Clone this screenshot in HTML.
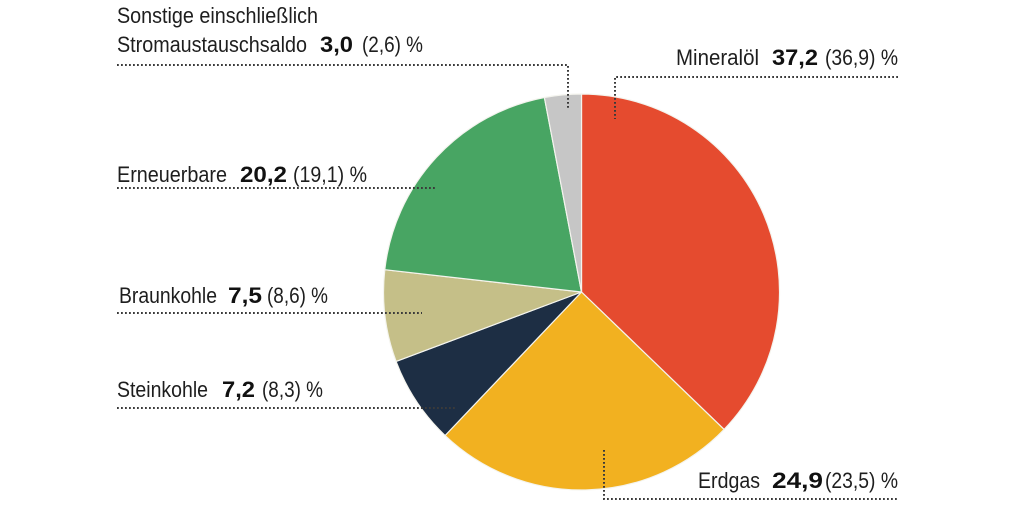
<!DOCTYPE html>
<html>
<head>
<meta charset="utf-8">
<style>
  html, body { margin: 0; padding: 0; background: #ffffff; }
  svg { display: block; }
  .t { font-family: "Liberation Sans Narrow", "Liberation Sans", sans-serif; fill: #1e1e1e; font-size: 22px; }
  .b { font-weight: bold; font-size: 22px; fill: #111; }
  .d { stroke: #3a3a3a; stroke-width: 2; stroke-dasharray: 1.8 2.2; fill: none; }
</style>
</head>
<body>
<svg width="1024" height="512" viewBox="0 0 1024 512" xmlns="http://www.w3.org/2000/svg">
  <rect width="1024" height="512" fill="#ffffff"/>
  <g stroke="#f4f4ee" stroke-width="1.2" stroke-linejoin="round">
    <path d="M581.5,292 L581.5,94 A198,198 0 0 1 724.1,429.4 Z" fill="#E54B2F"/>
    <path d="M581.5,292 L724.1,429.4 A198,198 0 0 1 445.1,435.5 Z" fill="#F2B120"/>
    <path d="M581.5,292 L445.1,435.5 A198,198 0 0 1 396.1,361.4 Z" fill="#1D2E44"/>
    <path d="M581.5,292 L396.1,361.4 A198,198 0 0 1 384.8,269.7 Z" fill="#C5BF88"/>
    <path d="M581.5,292 L384.8,269.7 A198,198 0 0 1 544.4,97.5 Z" fill="#48A563"/>
    <path d="M581.5,292 L544.4,97.5 A198,198 0 0 1 581.5,94 Z" fill="#C6C6C6"/>
  </g>

  <!-- leader lines -->
  <path class="d" d="M117,65 H568 V108"/>
  <path class="d" d="M898,77 H615 V119"/>
  <path class="d" d="M117,188 H435"/>
  <path class="d" d="M117,313 H422"/>
  <path class="d" d="M117,408 H455"/>
  <path class="d" d="M604,450 V499 H898"/>

  <!-- Sonstige -->
  <text class="t" x="117" y="23" textLength="201" lengthAdjust="spacingAndGlyphs">Sonstige einschließlich</text>
  <text class="t" x="117" y="52" textLength="190" lengthAdjust="spacingAndGlyphs">Stromaustauschsaldo</text>
  <text class="t b" x="320" y="52" textLength="33" lengthAdjust="spacingAndGlyphs">3,0</text>
  <text class="t" x="362" y="52" textLength="61" lengthAdjust="spacingAndGlyphs">(2,6) %</text>

  <!-- Mineralöl -->
  <text class="t" x="676" y="65" textLength="83" lengthAdjust="spacingAndGlyphs">Mineralöl</text>
  <text class="t b" x="772" y="65" textLength="46" lengthAdjust="spacingAndGlyphs">37,2</text>
  <text class="t" x="825" y="65" textLength="73" lengthAdjust="spacingAndGlyphs">(36,9) %</text>

  <!-- Erneuerbare -->
  <text class="t" x="117" y="182" textLength="110" lengthAdjust="spacingAndGlyphs">Erneuerbare</text>
  <text class="t b" x="240" y="182" textLength="47" lengthAdjust="spacingAndGlyphs">20,2</text>
  <text class="t" x="293" y="182" textLength="74" lengthAdjust="spacingAndGlyphs">(19,1) %</text>

  <!-- Braunkohle -->
  <text class="t" x="119" y="303" textLength="98" lengthAdjust="spacingAndGlyphs">Braunkohle</text>
  <text class="t b" x="228" y="303" textLength="34" lengthAdjust="spacingAndGlyphs">7,5</text>
  <text class="t" x="267" y="303" textLength="61" lengthAdjust="spacingAndGlyphs">(8,6) %</text>

  <!-- Steinkohle -->
  <text class="t" x="117" y="397" textLength="91" lengthAdjust="spacingAndGlyphs">Steinkohle</text>
  <text class="t b" x="222" y="397" textLength="33" lengthAdjust="spacingAndGlyphs">7,2</text>
  <text class="t" x="262" y="397" textLength="61" lengthAdjust="spacingAndGlyphs">(8,3) %</text>

  <!-- Erdgas -->
  <text class="t" x="698" y="488" textLength="62" lengthAdjust="spacingAndGlyphs">Erdgas</text>
  <text class="t b" x="772" y="488" textLength="51" lengthAdjust="spacingAndGlyphs">24,9</text>
  <text class="t" x="825" y="488" textLength="73" lengthAdjust="spacingAndGlyphs">(23,5) %</text>
</svg>
</body>
</html>
